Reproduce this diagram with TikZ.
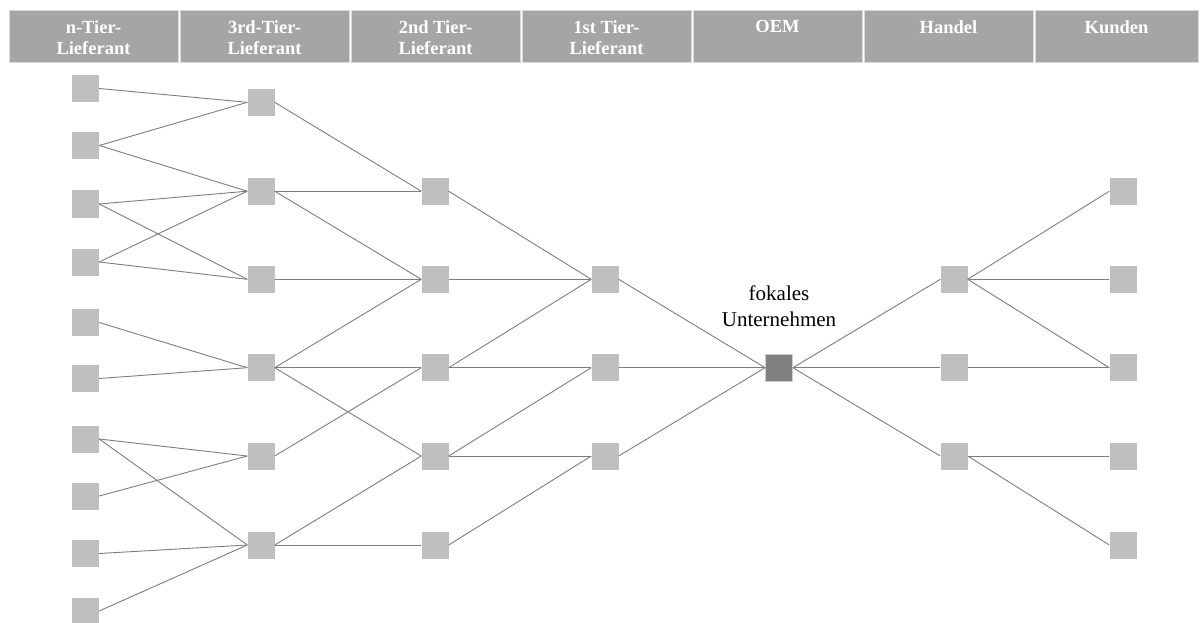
\documentclass[tikz,border=0pt]{standalone}
\usepackage{fontspec}
\setmainfont{Liberation Serif}
\definecolor{hdrfill}{RGB}{165,165,165}
\definecolor{hdredge}{RGB}{218,218,218}
\definecolor{boxfill}{RGB}{191,191,191}
\definecolor{focalfill}{RGB}{128,128,128}
\definecolor{focaledge}{RGB}{205,205,205}
\definecolor{linkcol}{RGB}{125,125,125}
\begin{document}
\begin{tikzpicture}[x=1pt,y=-1pt,
  hdrcell/.style={draw=hdredge, line width=1pt, fill=hdrfill},
  hdrtext/.style={anchor=north, inner sep=0pt, align=center, text=white,
    font=\fontsize{18.5}{21}\selectfont\bfseries},
  sq/.style={rectangle, fill=boxfill, minimum size=27pt, inner sep=0pt},
  focal/.style={rectangle, fill=focalfill, draw=focaledge, line width=0.8pt,
    minimum size=27pt, inner sep=0pt},
  link/.style={draw=linkcol, line width=0.9pt},
]
\useasboundingbox (0,0) rectangle (1200,623);

% header bar
\foreach \xa/\xb/\xm/\lbl [count=\i] in {
   8/179/93.5/{n-Tier-\\Lieferant},
   179/350/264.5/{3rd-Tier-\\Lieferant},
   350/521/435.5/{2nd Tier-\\Lieferant},
   521/692/606.5/{1st Tier-\\Lieferant},
   692/863/777.5/{OEM},
   863/1034/948.5/{Handel},
   1034/1199/1116.5/{Kunden}} {
  \path[hdrcell] (\xa+1,11) rectangle (\xb-1,63);
  \node[hdrtext] (h\i) at (\xm,20.5) {\lbl};
}

% n-tier suppliers
\foreach \y [count=\i] in {88.5,145.5,204,262,322.5,378.5,439,496,553.5,611}
  \node[sq] (n\i) at (85.5,\y) {};
% 3rd tier
\foreach \y [count=\i] in {102.3,191.2,279.3,367.7,456,545}
  \node[sq] (t\i) at (261,\y) {};
% 2nd tier
\foreach \y [count=\i] in {191.2,279.3,367.7,456,545}
  \node[sq] (s\i) at (435,\y) {};
% 1st tier
\foreach \y [count=\i] in {279.3,367.7,456}
  \node[sq] (f\i) at (605,\y) {};
% focal company
\node[focal] (oem) at (779,367.7) {};
\node[anchor=south, inner sep=0pt, align=center,
  font=\fontsize{21}{26}\selectfont] (lbl) at (779,326.5) {fokales\\Unternehmen};
% retail
\foreach \y [count=\i] in {279.3,367.7,456}
  \node[sq] (r\i) at (954,\y) {};
% customers
\foreach \y [count=\i] in {191.2,279.3,367.7,456,545}
  \node[sq] (k\i) at (1123,\y) {};

% links
\foreach \a/\b in {n1/t1,n2/t1,n2/t2,n3/t2,n3/t3,n4/t2,n4/t3,n5/t4,n6/t4,
                   n7/t5,n7/t6,n8/t5,n9/t6,n10/t6,
                   t1/s1,t2/s1,t2/s2,t3/s2,t4/s2,t4/s3,t4/s4,t5/s3,t6/s4,t6/s5,
                   s1/f1,s2/f1,s3/f1,s3/f2,s4/f2,s4/f3,s5/f3,
                   f1/oem,f2/oem,f3/oem,
                   oem/r1,oem/r2,oem/r3,
                   r1/k1,r1/k2,r1/k3,r2/k3,r3/k4,r3/k5}
  \draw[link] (\a.east) -- (\b.west);
\end{tikzpicture}
\end{document}
